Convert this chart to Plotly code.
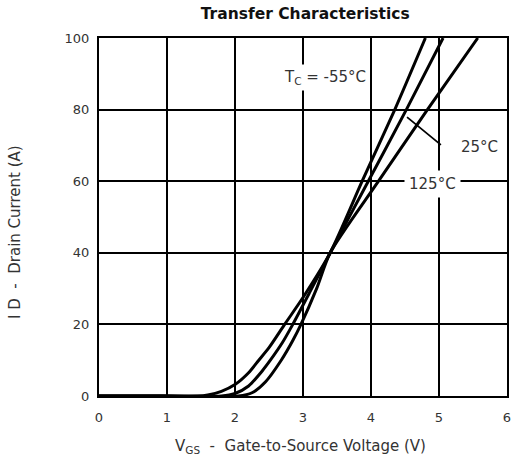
import plotly.graph_objects as go

# Data
v_m55 = [0.0, 0.75, 1.45, 1.6, 1.8, 2.0, 2.2, 2.35, 2.5, 2.73, 3.0, 3.4, 3.87, 4.35, 4.80]
id_m55 = [0.0, 0.0, 0.0, 0.3, 1.3, 3.2, 6.5, 10.0, 13.5, 20.0, 27.5, 40.0, 60.0, 80.0, 100.0]

v_25 = [0.0, 0.9, 1.8, 2.0, 2.2, 2.4, 2.52, 2.7, 2.85, 3.1, 3.4, 3.96, 4.52, 5.06]
id_25 = [0.0, 0.0, 0.0, 0.7, 2.8, 7.0, 10.0, 15.0, 20.0, 29.0, 40.0, 60.0, 80.0, 100.0]

v_125 = [0.0, 1.0, 2.05, 2.25, 2.45, 2.68, 2.85, 2.97, 3.2, 3.4, 4.11, 4.83, 5.57]
id_125 = [0.0, 0.0, 0.0, 0.9, 4.0, 10.0, 15.5, 20.0, 30.0, 40.0, 60.0, 80.0, 100.0]

x_ticks = [0, 1, 2, 3, 4, 5, 6]
y_ticks = [0, 20, 40, 60, 80, 100]

FONT = "DejaVu Sans, Arial, sans-serif"
TXT = "#333333"

fig = go.Figure()
for xs, ys in [(v_m55, id_m55), (v_25, id_25), (v_125, id_125)]:
    fig.add_trace(go.Scatter(x=xs, y=ys, mode="lines",
                             line=dict(color="black", width=3, shape="spline", smoothing=0.7),
                             showlegend=False, hoverinfo="skip"))

fig.update_layout(
    width=519, height=468,
    margin=dict(l=99, r=8, t=38, b=72),
    paper_bgcolor="white", plot_bgcolor="white",
    font=dict(family=FONT, size=13, color=TXT),
    title=dict(text="<b>Transfer Characteristics</b>", x=0.588, xanchor="center",
               y=0.970, yanchor="middle", font=dict(size=15.5, color="#111111")),
    xaxis=dict(range=[0, 6], tickvals=x_ticks, showgrid=True, gridcolor="black", gridwidth=1.5,
               zeroline=False, showline=True, linecolor="black", linewidth=2, mirror=True,
               ticks="outside", ticklen=8, tickcolor="rgba(0,0,0,0)", tickfont=dict(size=13, color=TXT)),
    yaxis=dict(range=[0, 100], tickvals=y_ticks, showgrid=True, gridcolor="black", gridwidth=1.5,
               zeroline=False, showline=True, linecolor="black", linewidth=2, mirror=True,
               ticks="outside", ticklen=5, tickcolor="rgba(0,0,0,0)", tickfont=dict(size=13, color=TXT)),
)

# axis titles
fig.add_annotation(xref="paper", yref="paper", x=0.493, y=-0.142, xanchor="center", yanchor="middle",
                   text="V<sub>GS</sub>  -  Gate-to-Source Voltage (V)", showarrow=False,
                   font=dict(size=15, color=TXT))
fig.add_annotation(xref="paper", yref="paper", x=-0.206, y=0.458, xanchor="center", yanchor="middle",
                   textangle=-90, text="I D  -  Drain Current (A)", showarrow=False,
                   font=dict(size=15, color=TXT))

fig.add_annotation(x=4.53, y=77.9, ax=5.05, ay=69.8, axref="x", ayref="y",
                   text="", showarrow=True, arrowhead=0, arrowwidth=1.8, arrowcolor="black")
fig.add_annotation(x=3.33, y=89.1, text="T<sub>C</sub> = -55°C", showarrow=False,
                   bgcolor="white", borderpad=3, font=dict(size=15, color=TXT))
fig.add_annotation(x=5.6, y=69.6, text="25°C", showarrow=False,
                   bgcolor="white", borderpad=4, font=dict(size=15, color=TXT))
fig.add_annotation(x=4.9, y=59.2, text="125°C", showarrow=False,
                   bgcolor="white", borderpad=4, font=dict(size=15, color=TXT))

fig.write_html("out.html", config={"displayModeBar": False},
               post_script="document.body.style.margin='0';")
